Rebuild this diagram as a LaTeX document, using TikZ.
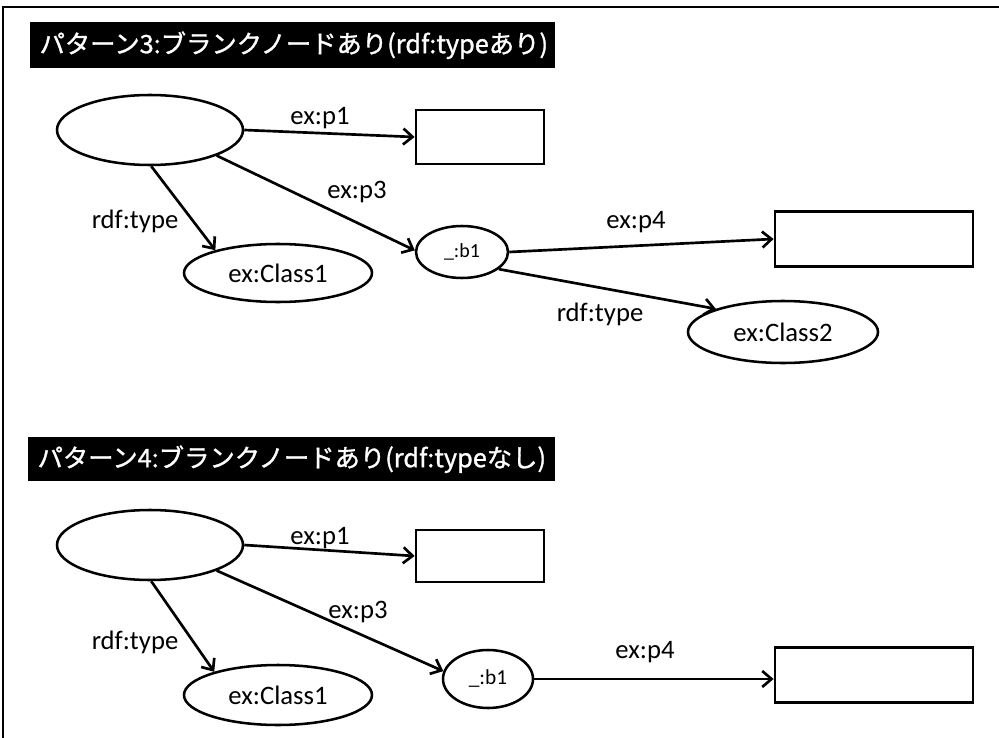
\documentclass[tikz,border=0pt]{standalone}
\usepackage{fontspec}
\setmainfont{Carlito}
\newfontfamily\jpfont[FakeBold=1.2]{Noto Sans CJK JP}
\usetikzlibrary{shapes.geometric,arrows.meta}

\begin{document}
\begin{tikzpicture}[x=0.75pt,y=-0.75pt,
  res/.style={draw,line width=1.9pt,ellipse,inner sep=0pt,font=\fontsize{20}{24}\selectfont},
  blank/.style={draw,line width=1.9pt,ellipse,inner sep=0pt,font=\fontsize{15}{18}\selectfont},
  lit/.style={draw,line width=2.1pt,rectangle,inner sep=0pt},
  lbl/.style={inner sep=0pt,font=\fontsize{20}{24}\selectfont},
  title/.style={fill=black,text=white,inner sep=0pt,anchor=north west,
    font=\jpfont\fontsize{19}{22}\selectfont},
  rel/.style={line width=2pt,-{Straight Barb[length=7pt,width=12pt,line width=2pt]}},
  frame/.style={line width=1.6pt}]
\useasboundingbox (0,0) rectangle (999,738);

% outer frame: top and left edges only
\coordinate (fa) at (3,738);
\coordinate (fb) at (3,7);
\coordinate (fc) at (999,7);
\draw[frame] (fa) -- (fb) -- (fc);

% ---------- pattern 3 ----------
\node[title,minimum height=46*0.75pt,text width=525*0.75pt] (t3) at (30,22)
  {\mbox{\hspace*{7pt}パターン3:ブランクノードあり(rdf:typeあり)}};

\node[res,minimum width=186*0.75pt,minimum height=70*0.75pt] (s3) at (150,130) {};
\node[lit,minimum width=128*0.75pt,minimum height=54*0.75pt] (p13) at (480,137) {};
\node[res,minimum width=188*0.75pt,minimum height=58*0.75pt] (c13) at (278,273) {ex:Class1};
\node[blank,minimum width=92*0.75pt,minimum height=52*0.75pt] (b3) at (462,252) {\_:b1};
\node[lit,minimum width=198*0.75pt,minimum height=55*0.75pt] (p43) at (874,239) {};
\node[res,minimum width=190*0.75pt,minimum height=62*0.75pt] (c23) at (783,332) {ex:Class2};

\draw[rel] (s3.east) -- (p13.west);
\draw[rel] (s3.-21) -- (b3.178);
\draw[rel] (s3.-88) -- (c13.160);
\draw[rel] (b3.east) -- (p43.west);
\draw[rel] (b3.-25) -- (c23.161);

\node[lbl] (l31) at (320,118) {ex:p1};
\node[lbl] (l33) at (357,192) {ex:p3};
\node[lbl] (l3t) at (135,221) {rdf:type};
\node[lbl] (l34) at (636,222) {ex:p4};
\node[lbl] (l3u) at (600,314) {rdf:type};

% ---------- pattern 4 ----------
\node[title,minimum height=44*0.75pt,text width=527*0.75pt] (t4) at (28,437)
  {\mbox{\hspace*{7pt}パターン4:ブランクノードあり(rdf:typeなし)}};

\node[res,minimum width=186*0.75pt,minimum height=70*0.75pt] (s4) at (150,545) {};
\node[lit,minimum width=128*0.75pt,minimum height=52*0.75pt] (p14) at (480,556) {};
\node[res,minimum width=188*0.75pt,minimum height=60*0.75pt] (c14) at (278,695) {ex:Class1};
\node[blank,minimum width=90*0.75pt,minimum height=58*0.75pt,font=\fontsize{16}{19}\selectfont] (b4) at (488,679) {\_:b1};
\node[lit,minimum width=198*0.75pt,minimum height=55*0.75pt] (p44) at (874,675) {};

\draw[rel] (s4.east) -- (p14.west);
\draw[rel] (s4.-21) -- (b4.170);
\draw[rel] (s4.-88) -- (c14.160);
\draw[rel] (b4.east) -- (p44.west |- b4.east);

\node[lbl] (l41) at (320,538) {ex:p1};
\node[lbl] (l43) at (358,612) {ex:p3};
\node[lbl] (l4t) at (135,642) {rdf:type};
\node[lbl] (l44) at (645,652) {ex:p4};
\end{tikzpicture}
\end{document}
